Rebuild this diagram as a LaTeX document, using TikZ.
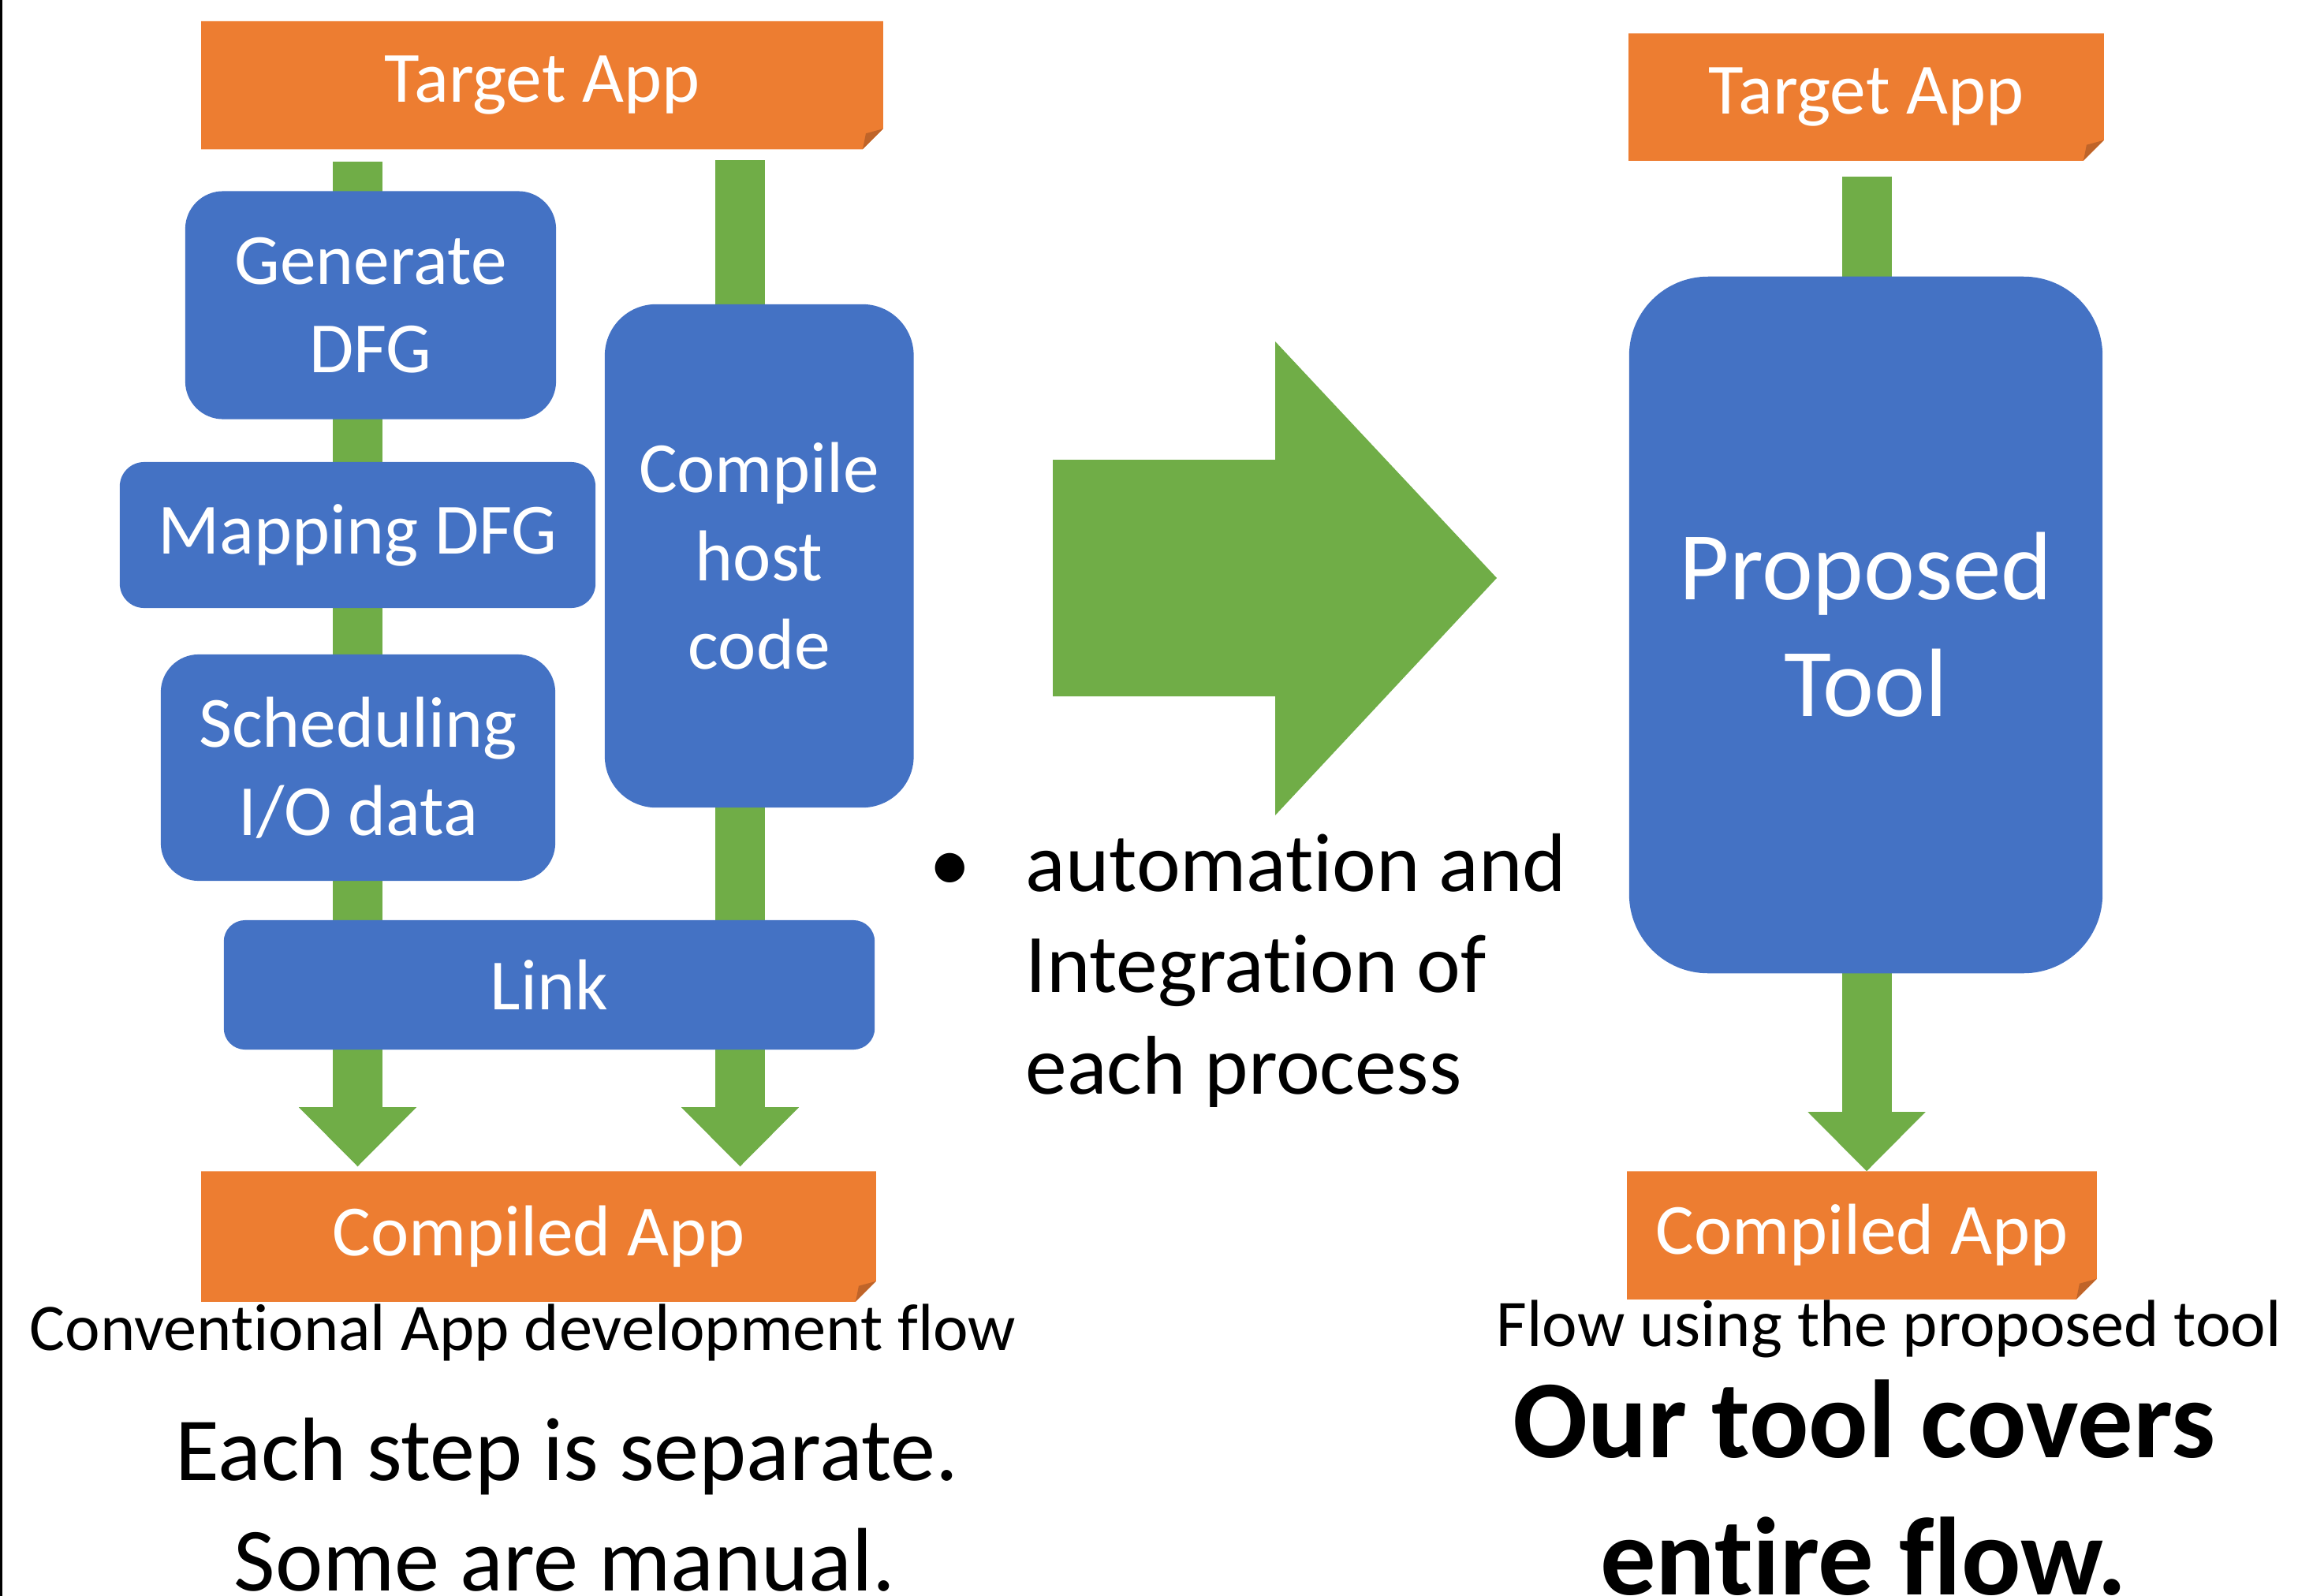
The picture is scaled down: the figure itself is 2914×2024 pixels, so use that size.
\documentclass[tikz,border=0pt]{standalone}
\usepackage{fontspec}
\setmainfont{Carlito}[Ligatures={NoCommon,NoContextual,NoRequired,NoRare}]
\usetikzlibrary{arrows.meta,backgrounds,calc}

\definecolor{appOrange}{HTML}{ED7D31}
\definecolor{foldOrange}{HTML}{BF6429}
\definecolor{stepBlue}{HTML}{4472C4}
\definecolor{flowGreen}{HTML}{70AD47}

\newcommand\fntBox{\fontsize{26pt}{31.8pt}\selectfont}
\newcommand\fntTool{\fontsize{35pt}{42.1pt}\selectfont}
\newcommand\fntCap{\fontsize{24pt}{29pt}\selectfont}
\newcommand\fntNote{\fontsize{32.5pt}{39pt}\selectfont}
\newcommand\fntPoint{\fontsize{30pt}{36.6pt}\selectfont}
\newcommand\fntClaim{\fontsize{40pt}{48pt}\selectfont\bfseries}

\begin{document}
\begin{tikzpicture}[x=0.01cm, y=-0.01cm,
  appbox/.style={inner sep=0pt, text=white, font=\fntBox},
  stepbox/.style={inner sep=0pt, fill=stepBlue, text=white, font=\fntBox, align=center},
  stem/.style={draw=flowGreen, line width=0.63cm},
  flowarrow/.style={stem, -{Triangle[width=1.49cm, length=0.75cm, line width=0pt]}},
  caption/.style={inner sep=0pt, anchor=base west, font=\fntCap},
  note/.style={inner sep=0pt, anchor=base, font=\fntNote},
  point/.style={inner sep=0pt, anchor=base west, font=\fntPoint},
  claim/.style={inner sep=0pt, anchor=base, font=\fntClaim}]

\useasboundingbox (0,0) rectangle (2914,2024);
\fill[black] (0,0) rectangle (2.7,2024);

% columns of the green flow lines
\coordinate (xL) at (453.5,0);
\coordinate (xR) at (938.5,0);
\coordinate (xP) at (2367,0);

% conventional flow
\node[appbox, minimum width=8.63cm, minimum height=1.61cm] (tgtL) at (687.5,108) {Target App};
\node[stepbox, minimum width=4.70cm, minimum height=2.89cm, rounded corners=0.48cm] (gen) at (470,387) {Generate\\DFG};
\node[stepbox, minimum width=6.03cm, minimum height=1.85cm, rounded corners=0.31cm] (map) at (453.5,678.5) {Mapping DFG};
\node[stepbox, minimum width=5.00cm, minimum height=2.87cm, rounded corners=0.48cm] (sched) at (454,973.5) {Scheduling\\I/O data};
\node[stepbox, minimum width=3.915cm, minimum height=6.38cm, rounded corners=0.65cm] (host) at (962.75,705) {Compile\\host\\code};
\node[stepbox, minimum width=8.25cm, minimum height=1.64cm, rounded corners=0.27cm] (link) at (696.5,1249) {Link};
\node[appbox, minimum width=8.54cm, minimum height=1.64cm] (cmpL) at (683,1568) {Compiled App};

% flow with the proposed tool
\node[appbox, minimum width=6.01cm, minimum height=1.60cm] (tgtR) at (2366.5,123) {Target App};
\node[stepbox, font=\fntTool, minimum width=6.00cm, minimum height=8.83cm, rounded corners=1.0cm] (tool) at (2366,792.5) {Proposed\\Tool};
\node[appbox, minimum width=5.94cm, minimum height=1.61cm] (cmpR) at (2361,1566.5) {Compiled App};

\begin{pgfonlayer}{background}
  % orange boxes with a folded lower right corner
  \foreach \n in {tgtL,cmpL,tgtR,cmpR} {
    \fill[appOrange] (\n.north west) -- (\n.north east) -- ($(\n.south east)+(0,-26)$)
      -- ($(\n.south east)+(-26,0)$) -- (\n.south west) -- cycle;
    \fill[foldOrange] ($(\n.south east)+(0,-26)$) -- ($(\n.south east)+(-22,-20)$)
      -- ($(\n.south east)+(-26,0)$) -- cycle;
  }
  % left column
  \draw[stem] ($(tgtL.south -| xL)+(0,16)$) -- ($(gen.north -| xL)+(0,4)$);
  \draw[stem] ($(gen.south -| xL)+(0,-4)$) -- ($(map.north -| xL)+(0,4)$);
  \draw[stem] ($(map.south -| xL)+(0,-4)$) -- ($(sched.north -| xL)+(0,4)$);
  \draw[stem] ($(sched.south -| xL)+(0,-4)$) -- ($(link.north -| xL)+(0,4)$);
  \draw[flowarrow] ($(link.south -| xL)+(0,-4)$) -- ($(cmpL.north -| xL)+(0,-6)$);
  % host code column
  \draw[stem] ($(tgtL.south -| xR)+(0,14)$) -- ($(host.north -| xR)+(0,4)$);
  \draw[stem] ($(host.south -| xR)+(0,-4)$) -- ($(link.north -| xR)+(0,4)$);
  \draw[flowarrow] ($(link.south -| xR)+(0,-4)$) -- ($(cmpL.north -| xR)+(0,-6)$);
  % proposed tool column
  \draw[stem] ($(tgtR.south -| xP)+(0,20)$) -- ($(tool.north -| xP)+(0,4)$);
  \draw[flowarrow] ($(tool.south -| xP)+(0,-4)$) -- (cmpR.north -| xP);
\end{pgfonlayer}

% big block arrow between the two flows
\fill[flowGreen] (1335,583) -- (1617,583) -- (1617,433) -- (1898,733)
  -- (1617,1034) -- (1617,883) -- (1335,883) -- cycle;

% bullet point
\node[inner sep=0pt, anchor=base, font=\fntPoint] (dot) at (1205,1130) {•};
\node[point] (ptA) at (1300,1130) {automation and};
\node[point] (ptB) at (1300,1258) {Integration of};
\node[point] (ptC) at (1300,1387) {each process};

% captions and remarks
\node[caption] (capL) at (37,1712) {Conventional App development flow};
\node[caption] (capR) at (1897,1707) {Flow using the proposed tool};
\node[note] (noteA) at (719,1877) {Each step is separate.};
\node[note] (noteB) at (716,2017) {Some are manual.};
\node[claim] (claimA) at (2364,1848) {Our tool covers};
\node[claim] (claimB) at (2363,2022) {entire flow.};
\end{tikzpicture}
\end{document}
